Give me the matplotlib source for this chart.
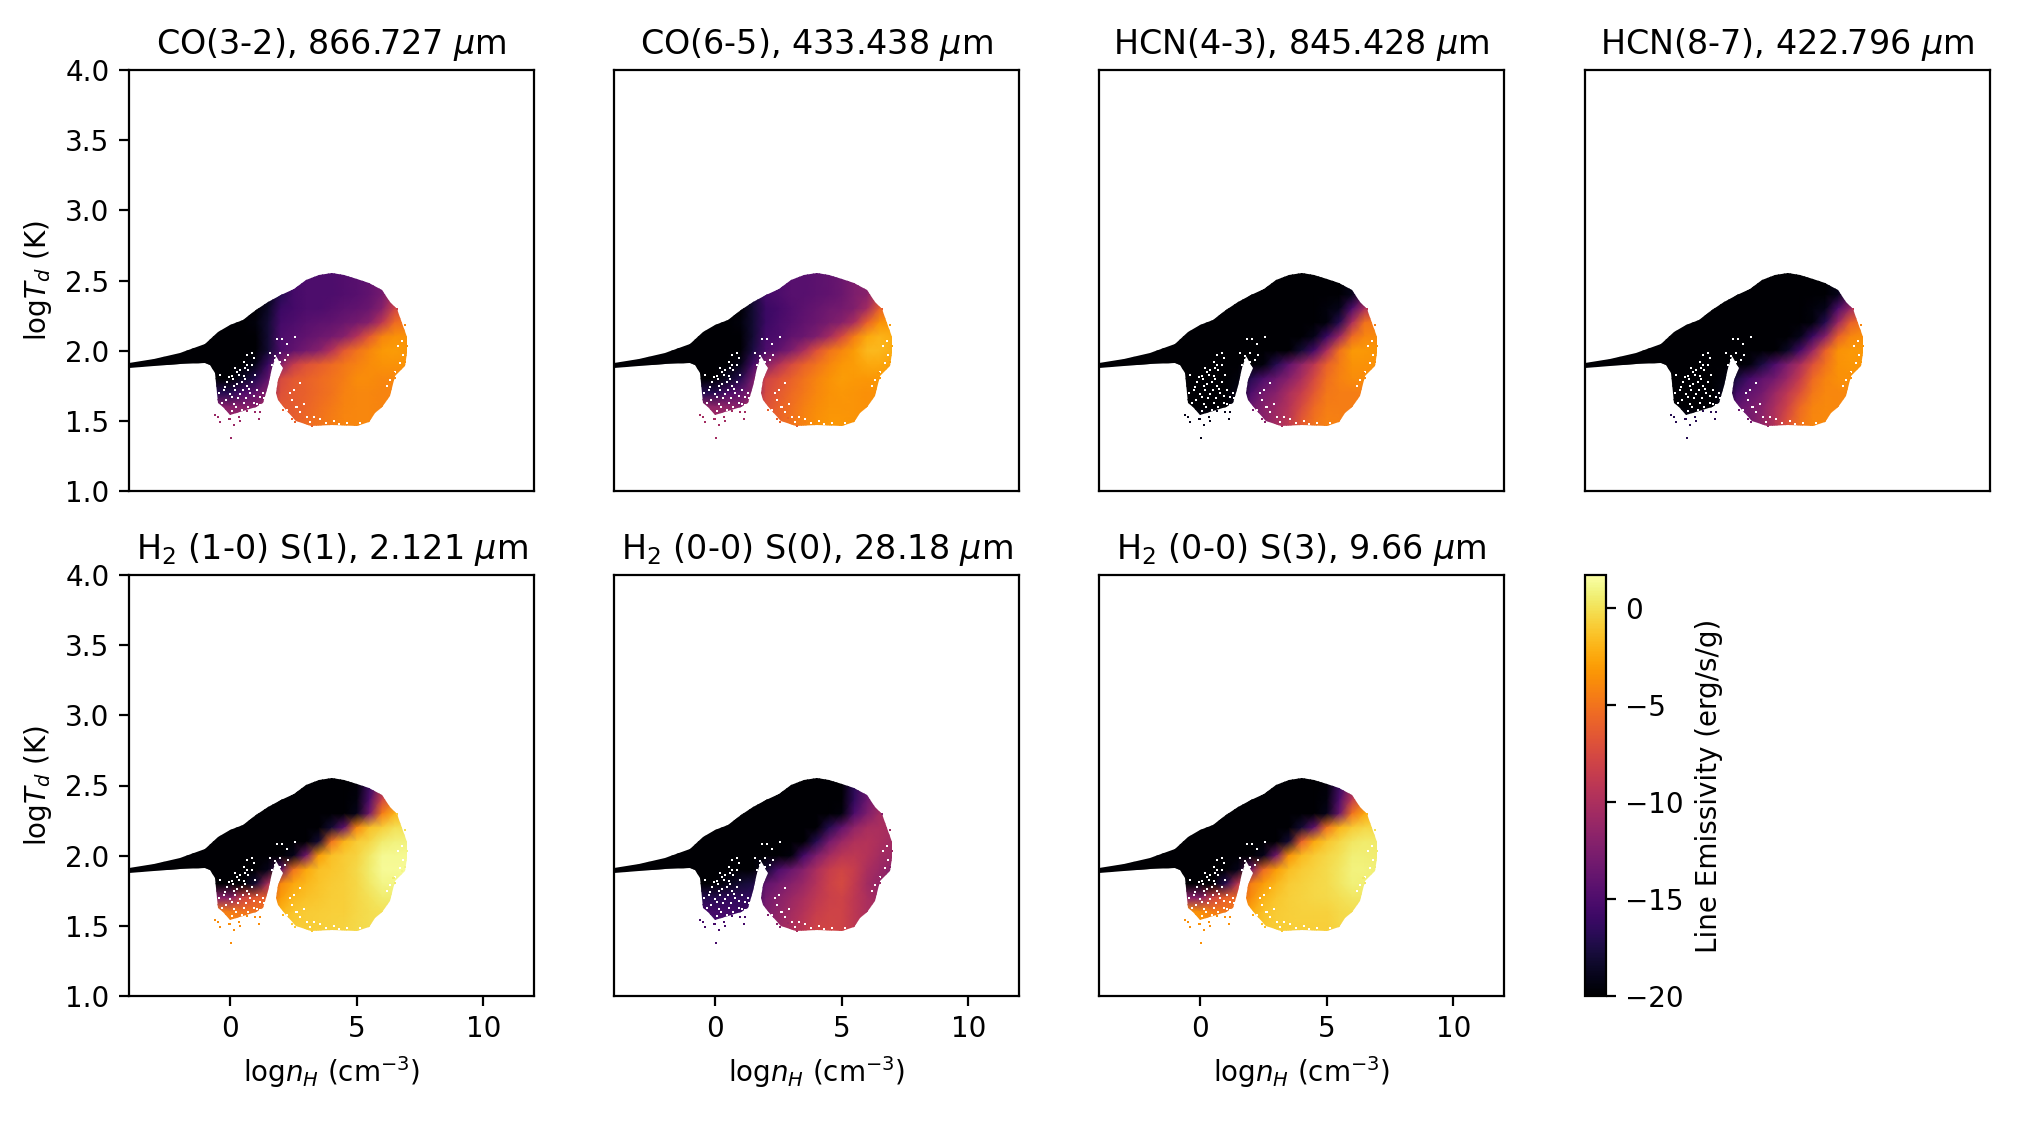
import numpy as np
import matplotlib
matplotlib.use('Agg')
from matplotlib import pyplot as plt
from matplotlib.patches import Polygon
from matplotlib.cm import ScalarMappable
from matplotlib.colors import Normalize

titles = ['CO(3-2), 866.727 $\\mu$m', 'CO(6-5), 433.438 $\\mu$m',
          'HCN(4-3), 845.428 $\\mu$m', 'HCN(8-7), 422.796 $\\mu$m',
          'H$_2$ (1-0) S(1), 2.121 $\\mu$m', 'H$_2$ (0-0) S(0), 28.18 $\\mu$m',
          'H$_2$ (0-0) S(3), 9.66 $\\mu$m']

#grid nodes, values are log emissivity
logn_nodes = [-1, 0, 0.5, 1, 1.5, 2, 2.5, 3, 3.5, 4, 4.5, 5, 5.5, 6, 6.5, 7.2]
logt_nodes = [2.6, 2.4, 2.3, 2.2, 2.1, 2.0, 1.9, 1.8, 1.7, 1.6, 1.5, 1.3]

co32 = [
    [-20, -20, -20, -20, -19, -17, -15.5, -15, -15, -15, -14.8, -14.5, -14, -13, -12, -10],
    [-20, -20, -20, -20, -19, -17, -15.5, -15, -15, -15, -14.8, -14.5, -14, -13, -10, -8],
    [-20, -20, -20, -20, -18.5, -16, -15.5, -15, -15, -14.7, -14.3, -14, -13.5, -12, -8, -6],
    [-20, -20, -20, -19.5, -18, -15.5, -15, -14.5, -14.2, -14, -13.5, -13, -12, -9, -5.5, -4.5],
    [-20, -20, -20, -20, -18, -15, -14.5, -14, -13.5, -13, -12, -9.5, -6.5, -4.2, -3.5, -3.5],
    [-20, -20, -20, -20, -18, -15, -14, -13, -12, -9.5, -6.5, -5, -4, -3.2, -3, -3.5],
    [-20, -20, -20, -19, -16, -12, -8.5, -7, -6.2, -5.5, -4.8, -4.3, -3.8, -3.5, -3.5, -3.5],
    [-20, -20, -18.5, -17, -14, -7.5, -6.5, -6, -5.5, -5, -4.5, -3.8, -3.8, -4, -4, -4],
    [-17, -17, -15, -14, -12, -7, -6.3, -6, -5.5, -5, -4.3, -4, -4, -4.2, -4.2, -4.2],
    [-12, -12, -12, -12, -10, -6.5, -6.3, -5.8, -5.2, -4.7, -4.2, -4, -4, -4.2, -4.2, -4.2],
    [-11, -11, -11, -11, -10, -6.5, -6.2, -5.5, -5, -4.5, -4.1, -4, -4, -4.2, -4.2, -4.2],
    [-11, -11, -11, -11, -10, -6.5, -6.2, -5.5, -5, -4.5, -4.1, -4, -4, -4.2, -4.2, -4.2],
]
co65 = [
    [-20, -20, -20, -20, -18, -15.5, -15, -14.5, -14.5, -14.3, -14, -13.5, -12.5, -12, -9, -6],
    [-20, -20, -20, -20, -18, -15.5, -15, -14.5, -14.5, -14.3, -14, -13.5, -12.5, -12, -9, -6],
    [-20, -20, -20, -20, -18, -16, -15.5, -14.8, -14.3, -13.8, -13.3, -13, -12.3, -10.5, -6, -4],
    [-20, -20, -20, -19.5, -18, -16, -15.2, -14.6, -14, -13.5, -12.8, -12, -10, -6, -3.5, -3],
    [-20, -20, -20, -20, -18, -15.5, -15, -14, -13.5, -12.5, -10.5, -7.5, -4.5, -2.5, -2, -2.5],
    [-20, -20, -20, -20, -17.5, -15, -14, -12.5, -10, -7, -5, -4, -3, -1.8, -1.8, -2.5],
    [-20, -20, -20, -19, -15.5, -12, -9.5, -7.5, -6, -5, -4, -3.3, -3, -2.5, -2.5, -3],
    [-20, -20, -18.5, -17, -13, -8, -7, -6, -5, -4.2, -3.5, -3, -3.2, -3.3, -3.3, -3.3],
    [-17, -17, -15, -14, -12, -7.5, -6.5, -5.5, -4.8, -4, -3.5, -3.3, -3.4, -3.6, -3.6, -3.6],
    [-11.5, -11.5, -11.5, -12, -10, -7, -6, -5.2, -4.4, -3.8, -3.4, -3.4, -3.4, -3.6, -3.6, -3.6],
    [-10.5, -10.5, -11, -11, -10, -6.5, -5.8, -5, -4.2, -3.6, -3.3, -3.3, -3.4, -3.6, -3.6, -3.6],
    [-10.5, -10.5, -11, -11, -10, -6.5, -5.8, -5, -4.2, -3.6, -3.3, -3.3, -3.4, -3.6, -3.6, -3.6],
]
hcn43 = [
    [-20, -20, -20, -20, -20, -20, -20, -20, -20, -20, -20, -20, -20, -19, -15, -12],
    [-20, -20, -20, -20, -20, -20, -20, -20, -20, -20, -20, -20, -20, -19, -15, -12],
    [-20, -20, -20, -20, -20, -20, -20, -20, -20, -20, -20, -19.5, -19, -15, -10, -8],
    [-20, -20, -20, -20, -20, -20, -20, -20, -20, -20, -20, -19.5, -17, -10, -5, -4.5],
    [-20, -20, -20, -20, -20, -20, -20, -20, -20, -20, -19, -16, -11, -5.5, -4, -3.8],
    [-20, -20, -20, -20, -20, -20, -20, -20, -20, -18, -15.5, -10, -5, -3.2, -3.2, -3.5],
    [-20, -20, -20, -20, -20, -20, -19.5, -17, -14, -11.5, -9, -6, -4.5, -3.5, -3.5, -3.6],
    [-20, -20, -20, -20, -19.5, -17, -15, -13.5, -12, -10, -7.5, -5.2, -4.3, -3.8, -3.8, -3.8],
    [-20, -20, -20, -20, -19, -15, -13, -12, -10, -8.5, -6.5, -4.8, -4.5, -4.5, -4.5, -4.5],
    [-20, -20, -20, -20, -19, -13.5, -12, -11, -9.5, -7.5, -5.5, -4.5, -4.5, -4.5, -4.5, -4.5],
    [-19, -19, -19, -19, -18, -13, -12, -10.5, -9, -6.5, -5, -4.3, -4.4, -4.5, -4.5, -4.5],
    [-18, -18, -18, -18, -18, -13, -12, -10.5, -9, -6.5, -5, -4.3, -4.4, -4.5, -4.5, -4.5],
]
hcn87 = [
    [-20, -20, -20, -20, -20, -20, -20, -20, -20, -20, -20, -20, -20, -19, -15, -12],
    [-20, -20, -20, -20, -20, -20, -20, -20, -20, -20, -20, -20, -20, -19, -15, -12],
    [-20, -20, -20, -20, -20, -20, -20, -20, -20, -20, -20, -19.5, -19, -15, -11, -8],
    [-20, -20, -20, -20, -20, -20, -20, -20, -20, -20, -20, -19.5, -17, -11, -6, -4.5],
    [-20, -20, -20, -20, -20, -20, -20, -20, -20, -20, -19, -16, -12, -6, -4, -3.5],
    [-20, -20, -20, -20, -20, -20, -20, -20, -20, -18.5, -15.5, -11, -6, -3.5, -3.2, -3.3],
    [-20, -20, -20, -20, -20, -20, -19.5, -17.5, -15, -12.5, -10, -7, -5, -3.5, -3.3, -3.4],
    [-20, -20, -20, -20, -19.5, -17.5, -15.5, -14, -13, -11, -8.5, -5.5, -4.2, -3.6, -3.6, -3.6],
    [-20, -20, -20, -20, -19, -15.5, -14, -13, -11, -9, -7, -4.8, -4, -4, -4, -4],
    [-20, -20, -20, -20, -19, -14, -13, -12, -10, -8, -5.5, -4.2, -3.9, -4, -4, -4],
    [-19, -19, -19, -19, -18, -13.5, -13, -11.5, -9.5, -7, -5, -4, -3.9, -4, -4, -4],
    [-17, -17, -17, -17, -17, -13.5, -13, -11.5, -9.5, -7, -5, -4, -3.9, -4, -4, -4],
]
h2_10s1 = [
    [-20, -20, -20, -20, -20, -20, -20, -20, -20, -20, -20, -20, -17, -14, -8, -6],
    [-20, -20, -20, -20, -20, -20, -20, -20, -20, -20, -20, -19.5, -15, -8, -5, -4],
    [-20, -20, -20, -20, -20, -20, -20, -20, -20, -20, -20, -19, -13, -4.5, -2, -1.5],
    [-20, -20, -20, -20, -20, -20, -20, -20, -20, -18, -14, -4, -1.5, -0.8, 0, 0],
    [-20, -20, -20, -20, -20, -20, -20, -20, -18, -5, -2, -1, -0.5, 0.5, 0.8, 0.8],
    [-20, -20, -20, -20, -20, -20, -19, -13, -3, -1.5, -1, -0.6, 0.3, 1.2, 1.2, 1.2],
    [-20, -20, -20, -20, -19, -14, -5, -2.5, -1.5, -1.2, -0.9, -0.4, 0.5, 1.3, 1.3, 1.3],
    [-20, -20, -20, -18, -10, -4, -2.5, -1.8, -1.3, -1, -0.8, -0.5, 0.3, 1, 1, 1],
    [-12, -12, -8, -6.5, -6, -3, -1.8, -1.4, -1.1, -0.9, -0.8, -0.5, 0, 0.5, 0.5, 0.5],
    [-4.5, -4.5, -5, -5, -5, -2, -1.2, -1, -0.9, -0.8, -0.8, -0.5, -0.2, 0, 0, 0],
    [-4, -4, -4, -4.5, -4.5, -1.5, -1, -0.9, -0.8, -0.7, -0.6, -0.4, -0.2, 0, 0, 0],
    [-3.5, -3.5, -3.5, -4, -4, -1.5, -1, -0.9, -0.8, -0.7, -0.6, -0.4, -0.2, 0, 0, 0],
]
h2_00s0 = [
    [-20, -20, -20, -20, -20, -20, -20, -20, -20, -20, -20, -20, -17, -14, -12, -11],
    [-20, -20, -20, -20, -20, -20, -20, -20, -20, -20, -20, -20, -16.5, -13.5, -11, -11],
    [-20, -20, -20, -20, -20, -20, -20, -20, -20, -20, -20, -19.5, -15, -12.5, -10.5, -10.5],
    [-20, -20, -20, -20, -20, -20, -20, -20, -20, -20, -17, -14, -11.5, -10.2, -10, -10.5],
    [-20, -20, -20, -20, -20, -20, -20, -20, -20, -17, -13, -11, -9.8, -9.5, -10, -10.8],
    [-20, -20, -20, -20, -20, -20, -20, -19.5, -15.5, -12.5, -10.5, -9.2, -9, -9.5, -10.5, -11],
    [-20, -20, -20, -20, -20, -18, -15, -13.5, -12, -10, -8.5, -7.8, -8.5, -10, -11, -12],
    [-20, -20, -19, -18, -17.5, -14, -13, -12, -11, -9.5, -8.2, -7.5, -8.8, -10.5, -11.5, -12],
    [-17, -17, -16.5, -16.5, -16.5, -13, -12, -11, -10, -9, -8.3, -8, -9, -10, -11, -11],
    [-15.5, -15.5, -15.5, -16, -16, -12.5, -11.5, -10.5, -9.5, -8.5, -8, -8, -9, -10, -10, -10],
    [-15.5, -15.5, -15.5, -16, -16, -12, -11, -10, -9, -8, -7.8, -8, -9, -10, -10, -10],
    [-15.5, -15.5, -15.5, -16, -16, -12, -11, -10, -9, -8, -7.8, -8, -9, -10, -10, -10],
]
h2_00s3 = [
    [-20, -20, -20, -20, -20, -20, -20, -20, -20, -20, -20, -20, -17, -14, -8, -6],
    [-20, -20, -20, -20, -20, -20, -20, -20, -20, -20, -20, -19.5, -15, -9, -5, -4],
    [-20, -20, -20, -20, -20, -20, -20, -20, -20, -20, -20, -19, -13.5, -5, -2.5, -1.5],
    [-20, -20, -20, -20, -20, -20, -20, -20, -20, -18, -14, -5, -2, -1, -0.5, -0.5],
    [-20, -20, -20, -20, -20, -20, -20, -20, -18, -6, -2.5, -1.2, -0.5, 0.2, 0.5, 0.4],
    [-20, -20, -20, -20, -20, -20, -19, -13, -3.5, -1.7, -1, -0.5, 0, 0.6, 0.6, 0.5],
    [-20, -20, -20, -20, -19, -13, -5.5, -3, -1.6, -1, -0.6, -0.3, 0.2, 0.8, 0.8, 0.6],
    [-20, -20, -20, -17, -9, -4.5, -3, -1.8, -1, -0.7, -0.5, -0.3, 0.2, 0.7, 0.6, 0.5],
    [-12, -12, -8, -6, -5.5, -3.8, -2, -1.2, -0.8, -0.6, -0.5, -0.4, -0.1, 0.2, 0.2, 0.2],
    [-3.6, -3.6, -4.5, -4.8, -4.8, -2.5, -1.4, -1, -0.8, -0.7, -0.7, -0.7, -0.4, -0.2, -0.2, -0.2],
    [-3.4, -3.4, -3.6, -4, -4, -2, -1.2, -0.9, -0.8, -0.8, -0.8, -0.8, -0.5, -0.3, -0.3, -0.3],
    [-3.2, -3.2, -3.4, -3.6, -3.6, -2, -1.2, -0.9, -0.8, -0.8, -0.8, -0.8, -0.5, -0.3, -0.3, -0.3],
]
panels = [co32, co65, hcn43, hcn87, h2_10s1, h2_00s0, h2_00s3]

#outline of the occupied region, same for all panels
outline_logn = [-4, -3, -2, -1, -0.5, 0, 0.5, 1, 1.5, 2, 2.5, 3, 3.5, 4, 4.5, 5, 5.5, 6,
                6.3, 6.6, 6.8, 7, 7, 6.9, 6.5, 6.3, 6, 5.7, 5.5, 5, 4, 3.2, 2.6, 2.2, 1.9,
                1.8, 1.9, 2.1, 1.8, 1.64, 1.5, 1.3, 1, 0.5, 0, -0.3, -0.5, -0.55, -0.6, -0.8, -1,
                -2, -3, -4]
outline_logt = [1.912, 1.943, 1.98, 2.05, 2.13, 2.18, 2.22, 2.29, 2.35, 2.40, 2.44, 2.505, 2.54,
                2.55, 2.54, 2.51, 2.48, 2.435, 2.35, 2.30, 2.2, 2.10, 1.98, 1.89, 1.82, 1.675,
                1.60, 1.555, 1.49, 1.465, 1.47, 1.46, 1.50, 1.58, 1.65, 1.70, 1.79, 1.877, 1.96,
                1.877, 1.746, 1.627, 1.60, 1.57, 1.544, 1.60, 1.627, 1.77, 1.84, 1.90, 1.91,
                1.907, 1.893, 1.876]

#white holes inside the region
gap_logn = [0.66, 0.86, 0.95, 0.53, 0.66, 0.86, 0.2, 0.59, 0.33, 0.53, 0.07, -0.39, -0.13, 0.46,
            0.13, 0.66, 0.99, -0.26, 0.39, 0.79, 0.07, 1.18, 0.53, 0.13, 0.92, 1.45, -0.33, 1.18,
            1.84, 2.04, 2.24, 2.57, 1.97, 2.3, 1.64, 1.78, 1.58, 2.37, 2.76, 2.43, 2.76, 3.03,
            3.29, 3.55, 4.08, 2.63, 2.24, 4.6, 5.13, 6.78, 6.64, 6.84, 6.71, 6.51, 6.32, 6.18,
            0.25, 0.4, 0.72, 0.1, -0.05, 0.28, 0.6, 0.85, -0.2, 0.2, 0.5, 0.75, 1.05, -0.45,
            0.0, 0.3, 0.62, 0.95, 1.3, -0.15, 0.22, 0.7, 1.05, 1.35, 0.45, 0.8, -0.4, 0.05,
            1.75, 1.95, 2.15, 2.6, 2.9, 2.5, 3.15, 3.8, 4.3]
gap_logt = [1.97, 1.98, 1.95, 1.92, 1.90, 1.90, 1.88, 1.88, 1.83, 1.82, 1.82, 1.83, 1.78, 1.78,
            1.75, 1.75, 1.83, 1.72, 1.69, 1.70, 1.67, 1.67, 1.63, 1.62, 1.63, 1.65, 1.63, 1.615,
            2.08, 2.08, 2.05, 2.10, 1.98, 1.97, 1.90, 1.96, 1.98, 1.70, 1.77, 1.65, 1.56, 1.53,
            1.53, 1.51, 1.50, 1.60, 1.58, 1.485, 1.485, 2.07, 2.03, 1.97, 1.91, 1.85, 1.79, 1.75,
            1.85, 1.86, 1.86, 1.80, 1.81, 1.76, 1.80, 1.78, 1.74, 1.72, 1.72, 1.73, 1.72, 1.70,
            1.69, 1.66, 1.66, 1.68, 1.70, 1.65, 1.60, 1.60, 1.62, 1.66, 1.58, 1.58, 1.60, 1.57,
            1.93, 1.92, 1.93, 1.60, 1.62, 1.72, 1.49, 1.485, 1.48]

#isolated cells below the left lobe and around the right lobe
stray_left_logn = [0.04, -0.59, -0.5, -0.39, -0.03, 0.13, 0.37, 1.12, 0.99, 1.18, 0.66, 0.33]
stray_left_logt = [1.38, 1.54, 1.53, 1.49, 1.51, 1.47, 1.50, 1.515, 1.56, 1.56, 1.57, 1.53]
stray_left_vals = [-11, -10.5, -19, -17, -3.8, -15.5, -3.6]
stray_right_logn = [2.1, 2.43, 2.57, 3.22, 2.89, 3.55, 6.58, 6.91, 6.97, 6.91, 6.78, 6.51, 6.45]
stray_right_logt = [1.58, 1.51, 1.49, 1.46, 1.52, 1.49, 2.30, 2.185, 2.03, 1.92, 1.89, 1.805, 1.84]
stray_right_vals = [[-6, -6, -6, -6, -6, -5, -8, -4, -3.5, -3.5, -3.5, -4, -4],
                    [-6, -6, -6, -6, -6, -4.5, -6, -3, -2.5, -3, -3, -3.3, -3.3],
                    [-13, -12, -12, -10, -11, -8, -9, -4.5, -3.5, -3.5, -3.5, -4, -4],
                    [-13.5, -13, -13, -11, -12, -9, -9, -4, -3.3, -3.3, -3.4, -3.6, -3.6],
                    [-2, -1, -1, -1, -1, -1, -1, 0, 1, 1, 1, 0.5, 0.5],
                    [-12.5, -12, -12, -10, -11, -9, -12, -11, -11, -12, -12, -11, -11],
                    [-2.5, -1.5, -1.5, -1, -1, -1, -2, 0, 0.5, 0.6, 0.6, 0.3, 0.3]]

vmin = -20
vmax = 1.7
fig_w = 2035
fig_h = 1127
ax_lefts = [129, 614, 1099, 1585]
ax_tops = [70, 575]
ax_w = 405
ax_h = 421
cell_size = 0.55

logn_all = [-4] + logn_nodes

fig = plt.figure(figsize=(fig_w/200, fig_h/200), dpi=200)
for k in range(len(panels)):
    row = k // 4
    col = k % 4
    ax = fig.add_axes([ax_lefts[col]/fig_w, 1-(ax_tops[row]+ax_h)/fig_h, ax_w/fig_w, ax_h/fig_h])
    vals = np.array(panels[k], dtype=float)
    #tail towards low density is black in every panel
    vals = np.column_stack([np.full(len(logt_nodes), vmin), vals])
    mesh = ax.pcolormesh(logn_all, logt_nodes, vals, shading='gouraud', cmap='inferno',
                         vmin=vmin, vmax=vmax)
    outline = Polygon(np.column_stack([outline_logn, outline_logt]), closed=True,
                      transform=ax.transData)
    mesh.set_clip_path(outline)
    ax.scatter(gap_logn, gap_logt, s=cell_size, c='white', marker='s', linewidths=0, zorder=3)
    ax.scatter(stray_left_logn, stray_left_logt, s=cell_size, marker='s', linewidths=0, zorder=3,
               c=np.full(len(stray_left_logn), stray_left_vals[k]), cmap='inferno',
               vmin=vmin, vmax=vmax)
    ax.scatter(stray_right_logn, stray_right_logt, s=cell_size, marker='s', linewidths=0, zorder=3,
               c=stray_right_vals[k], cmap='inferno', vmin=vmin, vmax=vmax)
    ax.set_xlim(-4, 12)
    ax.set_ylim(1, 4)
    ax.set_title(titles[k], fontsize=12, pad=5.6)
    if row == 1:
        ax.set_xticks([0, 5, 10])
        ax.set_xlabel(r'log$n_H$ (cm$^{-3}$)')
    else:
        ax.set_xticks([])
    if col == 0:
        ax.set_yticks([1.0, 1.5, 2.0, 2.5, 3.0, 3.5, 4.0])
        ax.set_ylabel(r'log$T_d$ (K)')
    else:
        ax.set_yticks([])

#colorbar in the empty eighth slot
cax = fig.add_axes([1585/fig_w, 1-(575+ax_h)/fig_h, 21/fig_w, ax_h/fig_h])
cb = fig.colorbar(ScalarMappable(Normalize(vmin, vmax), 'inferno'), cax=cax)
cb.set_ticks([-20, -15, -10, -5, 0])
cb.set_label('Line Emissivity (erg/s/g)')

plt.savefig('out.png', dpi=200)
